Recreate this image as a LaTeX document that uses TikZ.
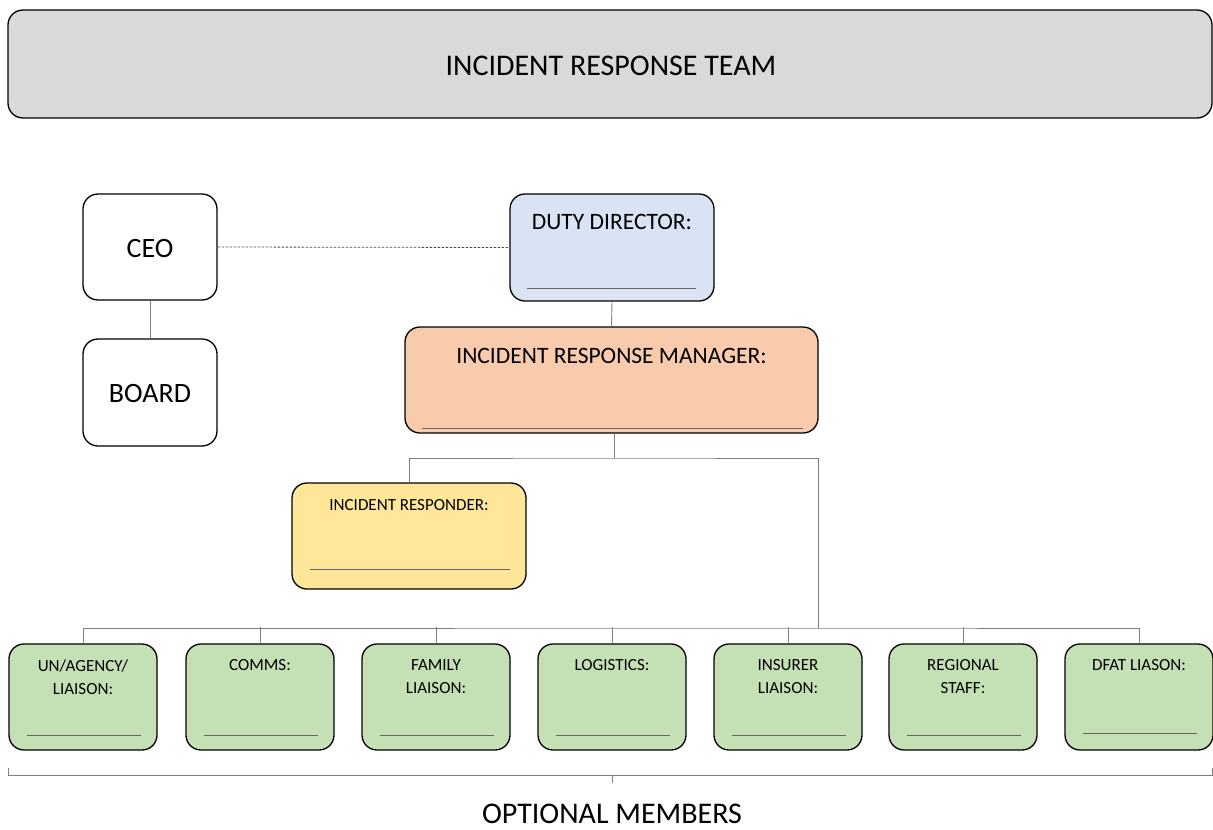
\documentclass[tikz,border=0pt]{standalone}
\usepackage{fontspec}
\setmainfont{Carlito}
\definecolor{banner}{HTML}{D9D9D9}
\definecolor{ddblue}{HTML}{DAE3F3}
\definecolor{mgrorange}{HTML}{F8CBAD}
\definecolor{respyellow}{HTML}{FFE699}
\definecolor{optgreen}{HTML}{C5E0B4}
\definecolor{linkgray}{HTML}{7F7F7F}
\begin{document}
\begin{tikzpicture}[x=1pt,y=-1pt,
  box/.style={draw=black, line width=1.3pt, rounded corners=15pt, inner sep=0pt},
  gbox/.style={box, fill=optgreen, minimum width=148pt, minimum height=106pt},
  conn/.style={draw=linkgray, line width=0.9pt},
  blank/.style={draw=black!60, line width=1pt},
  big/.style={font=\fontsize{30}{34}\selectfont, inner sep=0pt, anchor=base},
  mid/.style={font=\fontsize{23.5}{28}\selectfont, inner sep=0pt, anchor=base},
  lbl/.style={font=\fontsize{17}{23}\selectfont, align=center, inner sep=0pt, anchor=north},
]
\useasboundingbox (0,0) rectangle (1213,830);

% heading banner
\node[box, fill=banner, minimum width=1204pt, minimum height=108pt] (team) at (610,64) {};
\node[big] (teamtxt) at (611,75) {INCIDENT RESPONSE TEAM};

% governance
\node[box, fill=white, minimum width=134pt, minimum height=106pt] (ceo) at (150,247) {};
\node[big, font=\fontsize{28}{32}\selectfont] (ceotxt) at (150,257) {CEO};
\node[box, fill=white, minimum width=134pt, minimum height=107pt] (board) at (150,392.5) {};
\node[big, font=\fontsize{28}{32}\selectfont] (boardtxt) at (150,402.5) {BOARD};

% command chain
\node[box, fill=ddblue, minimum width=204pt, minimum height=107pt] (dd) at (612,247.5) {};
\node[mid] (ddtxt) at (612,229.5) {DUTY DIRECTOR:};
\draw[blank] (527,288) -- (696,288);

\node[box, fill=mgrorange, minimum width=413pt, minimum height=106pt] (irm) at (611.5,380) {};
\node[mid] (irmtxt) at (611.5,363) {INCIDENT RESPONSE MANAGER:};
\draw[blank] (422,428) -- (803,428);

\node[box, fill=respyellow, minimum width=234pt, minimum height=106pt] (resp) at (409,536) {};
\node[lbl, anchor=base] (resptxt) at (409,510.5) {INCIDENT RESPONDER:};
\draw[blank] (310,569) -- (510,569);

% optional members
\node[gbox] (g1) at (83,697) {};
\node[gbox] (g2) at (260,697) {};
\node[gbox] (g3) at (436,697) {};
\node[gbox] (g4) at (612,697) {};
\node[gbox] (g5) at (788,697) {};
\node[gbox] (g6) at (963,697) {};
\node[gbox] (g7) at (1139,697) {};

\node[lbl] (t1) at (83,659) {UN/AGENCY/\\LIAISON:};
\node[lbl] (t2) at (260,659) {COMMS:};
\node[lbl] (t3) at (436,659) {FAMILY\\LIAISON:};
\node[lbl] (t4) at (612,659) {LOGISTICS:};
\node[lbl] (t5) at (788,659) {INSURER\\LIAISON:};
\node[lbl] (t6) at (963,659) {REGIONAL\\STAFF:};
\node[lbl] (t7) at (1139,659) {DFAT LIASON:};

\foreach \g in {g1,g2,g3,g4,g5,g6}
  \draw[blank] ([xshift=-56pt,yshift=-38pt]\g.center) -- ([xshift=58pt,yshift=-38pt]\g.center);
\draw[blank] ([xshift=-56pt,yshift=-36pt]g7.center) -- ([xshift=58pt,yshift=-36pt]g7.center);

% connectors
\draw[conn] (ceo.south) -- (board.north);
\draw[draw=black!70, line width=0.8pt, dash pattern=on 2.5pt off 1.5pt] (ceo.east) -- (dd.west);
\draw[conn] (dd.south) -- (irm.north);
\coordinate (split) at (614,458);
\coordinate (bus) at (818,628);
\draw[conn] ([xshift=2.5pt]irm.south) -- (split);
\draw[conn] (resp.north) |- (split) -| (bus);
\draw[conn] (g1.north) |- (bus) -| (g7.north);
\foreach \g in {g2,g3,g4,g5,g6}
  \draw[conn] (\g.north) -- ++(0,-16);

% bracket under the optional members
\coordinate (bl) at (8,775);
\coordinate (br) at (1212,775);
\coordinate (bm) at (612,775);
\draw[conn] ([yshift=7pt]bl) -- (bl) -- (br) -- ([yshift=7pt]br);
\draw[conn] (bm) -- ++(0,8);
\node[big] (opttxt) at (612,823) {OPTIONAL MEMBERS};
\end{tikzpicture}
\end{document}
